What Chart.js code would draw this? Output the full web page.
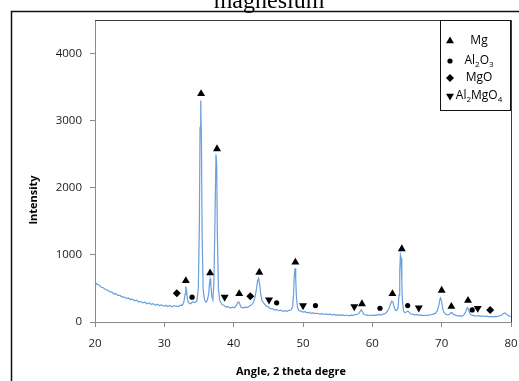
<!DOCTYPE html>
<html>
<head>
<meta charset="utf-8">
<script src="https://cdn.jsdelivr.net/npm/chart.js@4.4.1/dist/chart.umd.min.js"></script>
<style>
  html, body { margin: 0; padding: 0; background: #fff; }
  #wrap { width: 519px; height: 381px; }
</style>
</head>
<body>
<div id="wrap"><canvas id="xrd" width="519" height="381"></canvas></div>
<script>
// XRD pattern (2 theta, counts)
const angles = [
  20.0, 20.3, 20.6, 20.9, 21.2, 21.5, 21.8, 22.1, 22.4, 22.7, 23.0, 23.3, 23.6, 23.9, 24.2, 24.5,
  24.8, 25.1, 25.4, 25.7, 26.0, 26.3, 26.6, 26.9, 27.2, 27.5, 27.8, 28.1, 28.4, 28.7, 29.0, 29.3,
  29.6, 29.9, 30.2, 30.5, 30.8, 31.1, 31.4, 31.7, 32.0, 32.3, 32.6, 32.8, 33.0, 33.1, 33.2, 33.35,
  33.5, 33.8, 34.1, 34.4, 34.7, 34.9, 35.05, 35.15, 35.25, 35.35, 35.45, 35.6, 35.8, 36.0, 36.2, 36.4,
  36.5, 36.6, 36.7, 36.85, 37.0, 37.15, 37.3, 37.45, 37.55, 37.65, 37.8, 38.0, 38.3, 38.6, 38.9, 39.2,
  39.5, 39.8, 40.1, 40.4, 40.6, 40.75, 40.9, 41.1, 41.4, 41.7, 42.0, 42.3, 42.6, 42.9, 43.1, 43.3,
  43.45, 43.6, 43.75, 43.9, 44.1, 44.4, 44.7, 45.0, 45.3, 45.6, 45.9, 46.2, 46.5, 46.8, 47.1, 47.4,
  47.7, 48.0, 48.3, 48.5, 48.65, 48.75, 48.85, 48.95, 49.05, 49.2, 49.4, 49.7, 50.0, 50.3, 50.6, 50.9,
  51.2, 51.5, 51.8, 52.1, 52.4, 52.7, 53.0, 53.3, 53.6, 53.9, 54.2, 54.5, 54.8, 55.1, 55.4, 55.7,
  56.0, 56.3, 56.6, 56.9, 57.2, 57.5, 57.8, 58.1, 58.3, 58.45, 58.6, 58.8, 59.1, 59.4, 59.7, 60.0,
  60.3, 60.6, 60.9, 61.2, 61.5, 61.8, 62.1, 62.4, 62.6, 62.8, 62.95, 63.1, 63.3, 63.5, 63.7, 63.85,
  63.95, 64.05, 64.15, 64.25, 64.35, 64.5, 64.7, 64.9, 65.1, 65.3, 65.5, 65.8, 66.1, 66.4, 66.7, 67.0,
  67.3, 67.6, 67.9, 68.2, 68.5, 68.8, 69.1, 69.4, 69.6, 69.75, 69.85, 70.0, 70.15, 70.3, 70.6, 70.9,
  71.1, 71.3, 71.5, 71.7, 72.0, 72.3, 72.6, 72.9, 73.2, 73.45, 73.6, 73.75, 73.9, 74.1, 74.4, 74.7,
  75.0, 75.3, 75.6, 75.9, 76.2, 76.5, 76.8, 77.1, 77.4, 77.7, 78.0, 78.3, 78.6, 78.9, 79.1, 79.3,
  79.6, 79.8, 80.0
];
const counts = [
  592, 560, 552, 518, 510, 484, 476, 452, 446, 420, 424, 398, 396, 372, 376, 352,
  358, 334, 342, 316, 324, 298, 306, 284, 295, 272, 284, 262, 272, 250, 264, 244,
  256, 236, 248, 230, 246, 226, 242, 236, 228, 250, 248, 290, 420, 530, 470, 330,
  285, 272, 302, 288, 312, 500, 1400, 2900, 3300, 2700, 1300, 480, 330, 296, 322, 420,
  560, 640, 560, 380, 330, 600, 1500, 2500, 2350, 1300, 500, 320, 262, 246, 226, 230,
  208, 220, 212, 250, 296, 300, 262, 218, 210, 222, 218, 240, 256, 300, 380, 500,
  620, 650, 560, 420, 318, 272, 236, 228, 198, 196, 180, 184, 168, 176, 158, 168,
  160, 174, 182, 230, 420, 700, 800, 650, 380, 220, 172, 162, 148, 154, 136, 142,
  130, 136, 124, 130, 118, 124, 112, 120, 110, 116, 106, 114, 100, 110, 98, 106,
  96, 104, 92, 102, 100, 110, 112, 132, 170, 180, 145, 112, 106, 96, 104, 94,
  102, 100, 112, 104, 118, 122, 152, 198, 262, 310, 300, 240, 178, 172, 200, 400,
  750, 1000, 950, 600, 300, 170, 138, 148, 162, 150, 122, 118, 106, 112, 100, 106,
  96, 104, 94, 106, 108, 118, 128, 172, 250, 340, 360, 300, 200, 148, 112, 106,
  116, 136, 140, 112, 102, 90, 94, 86, 106, 150, 200, 215, 168, 120, 98, 94,
  86, 94, 84, 90, 82, 88, 78, 84, 76, 84, 80, 90, 100, 126, 135, 118,
  96, 86, 80
];

// phase markers: 2 theta, height of the symbol
const mgX = [33.1, 35.3, 36.6, 37.6, 40.8, 43.7, 48.9, 58.5, 62.9, 64.25, 70.0, 71.4, 73.8];
const mgY = [615, 3400, 730, 2580, 420, 740, 890, 270, 420, 1090, 470, 230, 320];
const al2o3X = [34.0, 46.2, 51.8, 61.1, 65.1, 74.4];
const al2o3Y = [370, 285, 245, 205, 245, 180];
const mgoX = [31.8, 42.4, 77.0];
const mgoY = [430, 385, 180];
const spinelX = [38.7, 45.1, 50.0, 57.4, 66.7, 75.2];
const spinelY = [370, 330, 245, 230, 210, 205];

const xTicks = [20, 30, 40, 50, 60, 70, 80];
const yTicks = [0, 1000, 2000, 3000, 4000];

const pts = (xs, ys) => xs.map((x, i) => ({ x: x, y: ys[i] }));

function marker(xs, ys, style, r, rot) {
  return {
    type: 'scatter',
    data: pts(xs, ys),
    pointStyle: style,
    pointRadius: r,
    pointRotation: rot || 0,
    backgroundColor: '#000',
    borderColor: '#000',
    borderWidth: 0,
    pointHoverRadius: r
  };
}

// legend entries: [style, rotation, radius, parts of the label]
const legendRows = [
  ['triangle', 0, 4.6, [['Mg', 0]]],
  ['circle', 0, 2.6, [['Al', 0], ['2', 1], ['O', 0], ['3', 1]]],
  ['rectRot', 0, 4, [['MgO', 0]]],
  ['triangle', 180, 4.6, [['Al', 0], ['2', 1], ['MgO', 0], ['4', 1]]]
];

const decor = {
  id: 'decor',
  beforeDraw(chart) {
    const ctx = chart.ctx;
    ctx.save();
    ctx.fillStyle = '#fff';
    ctx.fillRect(0, 0, chart.width, chart.height);
    ctx.restore();
  },
  afterDraw(chart) {
    const ctx = chart.ctx;
    const a = chart.chartArea;
    ctx.save();

    // plot frame
    ctx.strokeStyle = '#3a3a3a';
    ctx.lineWidth = 1;
    ctx.beginPath();
    ctx.moveTo(a.left, a.top + 0.5);
    ctx.lineTo(a.right + 0.5, a.top + 0.5);
    ctx.lineTo(a.right + 0.5, a.bottom);
    ctx.stroke();

    // outer chart border
    ctx.strokeStyle = '#111';
    ctx.lineWidth = 1.5;
    ctx.beginPath();
    ctx.moveTo(11.5, 400);
    ctx.lineTo(11.5, 11.5);
    ctx.lineTo(540, 11.5);
    ctx.stroke();

    // title, cut at the top edge
    ctx.fillStyle = '#000';
    ctx.font = '24px "Liberation Serif"';
    ctx.textAlign = 'center';
    ctx.textBaseline = 'alphabetic';
    ctx.fillText('magnesium', 269, 8);

    // axis titles
    ctx.font = 'bold 11px "Open Sans"';
    ctx.textBaseline = 'middle';
    ctx.fillText('Angle, 2 theta degre', 291, 372);
    ctx.save();
    ctx.translate(34, 200);
    ctx.rotate(-Math.PI / 2);
    ctx.fillText('Intensity', 0, 0);
    ctx.restore();

    // legend box
    ctx.strokeStyle = '#111';
    ctx.lineWidth = 1;
    ctx.strokeRect(440.5, 20.5, 70, 90);
    const rowY = [41, 61, 78, 96];
    legendRows.forEach((row, i) => {
      const y = rowY[i];
      ctx.fillStyle = '#000';
      Chart.helpers.drawPoint(ctx, {
        pointStyle: row[0], rotation: row[1], radius: row[2], borderWidth: 0
      }, 450, y);
      // measure label with subscripts
      let w = 0;
      row[3].forEach(p => {
        ctx.font = p[1] ? '8px "Open Sans"' : '12px "Open Sans"';
        w += ctx.measureText(p[0]).width;
      });
      let x = 479 - w / 2;
      ctx.textAlign = 'left';
      ctx.textBaseline = 'middle';
      row[3].forEach(p => {
        ctx.font = p[1] ? '8px "Open Sans"' : '12px "Open Sans"';
        ctx.fillText(p[0], x, y + (p[1] ? 4 : 0));
        x += ctx.measureText(p[0]).width;
      });
    });
    ctx.restore();
  }
};

new Chart(document.getElementById('xrd'), {
  type: 'line',
  data: {
    datasets: [
      marker(mgX, mgY, 'triangle', 4.6, 0),
      marker(al2o3X, al2o3Y, 'circle', 2.6, 0),
      marker(mgoX, mgoY, 'rectRot', 4, 0),
      marker(spinelX, spinelY, 'triangle', 4.6, 180),
      {
        type: 'line',
        data: pts(angles, counts),
        borderColor: '#6a9fdc',
        borderWidth: 1.2,
        pointRadius: 0,
        tension: 0,
        fill: false
      }
    ]
  },
  options: {
    responsive: false,
    animation: false,
    events: [],
    layout: { padding: { top: 20, right: 8, left: 0, bottom: 0 } },
    plugins: { legend: { display: false }, tooltip: { enabled: false } },
    scales: {
      x: {
        type: 'linear',
        min: 20,
        max: 80,
        afterFit(scale) { scale.height = 59; scale.paddingLeft = 0; scale.paddingRight = 0; },
        afterBuildTicks(scale) { scale.ticks = xTicks.map(v => ({ value: v })); },
        border: { display: true, color: '#8a8a8a', width: 1 },
        grid: { drawOnChartArea: false, drawTicks: true, tickLength: 5, color: '#8a8a8a' },
        ticks: {
          padding: 10, color: '#1a1a1a', font: { family: 'Open Sans', size: 11.5 }, maxRotation: 0,
          callback: v => String(v)
        }
      },
      y: {
        min: 0,
        max: 4500,
        afterFit(scale) { scale.width = 95; scale.paddingTop = 0; scale.paddingBottom = 0; },
        afterBuildTicks(scale) { scale.ticks = yTicks.map(v => ({ value: v })); },
        border: { display: true, color: '#8a8a8a', width: 1 },
        grid: { drawOnChartArea: false, drawTicks: true, tickLength: 5, color: '#8a8a8a' },
        ticks: {
          padding: 8, color: '#1a1a1a', font: { family: 'Open Sans', size: 11.5 },
          callback: v => String(v)
        }
      }
    }
  },
  plugins: [decor]
});
</script>
</body>
</html>
